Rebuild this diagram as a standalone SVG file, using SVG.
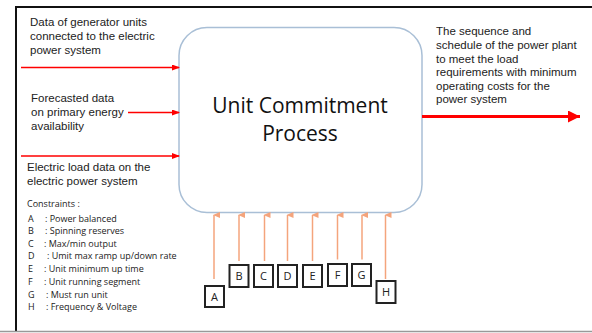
<svg xmlns="http://www.w3.org/2000/svg" width="592" height="333" viewBox="0 0 592 333">
<defs>
<style>
.t{font-family:"Liberation Sans",Arial,sans-serif;font-size:11.5px;fill:#222}
.c{font-family:"Open Sans","Liberation Sans",sans-serif;font-size:9px;fill:#222}
.title{font-family:"Open Sans","Liberation Sans",sans-serif;font-size:21px;fill:#111;text-anchor:middle}
.box{fill:#fff;stroke:#222;stroke-width:2}
.bl{font-family:"Open Sans","Liberation Sans",sans-serif;font-size:11px;fill:#222;text-anchor:middle}
.red{stroke:#f00;stroke-width:1.5;fill:none}
.or{stroke:#f4a47c;stroke-width:1.5;fill:none}
</style>
<marker id="ah" markerWidth="8" markerHeight="6" refX="7" refY="3" orient="auto" markerUnits="userSpaceOnUse"><path d="M0,0 L8,3 L0,6 Z" fill="#f00"/></marker>
<marker id="ahb" markerWidth="12" markerHeight="12" refX="12" refY="6" orient="auto" markerUnits="userSpaceOnUse"><path d="M0,0 L12,6 L0,12 Z" fill="#f00"/></marker>
<marker id="aho" markerWidth="6" markerHeight="7" refX="3" refY="1" orient="auto-start-reverse" markerUnits="userSpaceOnUse"><path d="M0,7 L3,0 L6,7 Z" fill="#f4a47c"/></marker>
</defs>
<rect width="592" height="333" fill="#fff"/>
<g id="frame">
<line x1="15" y1="7" x2="592" y2="7" stroke="#111" stroke-width="2"/>
<line x1="16" y1="6" x2="16" y2="331" stroke="#111" stroke-width="2"/>
<line x1="0" y1="331.5" x2="592" y2="331.5" stroke="#999" stroke-width="1.5"/>
</g>
<g id="process">
<rect x="179" y="27.5" width="243" height="185" rx="28" ry="28" fill="#fff" stroke="#a9bfd6" stroke-width="1.5"/>
<text class="title" x="300" y="113">Unit Commitment</text>
<text class="title" x="300" y="141">Process</text>
</g>
<g id="input1">
<text class="t" x="30" y="26">Data of generator units</text>
<text class="t" x="30" y="40">connected to the electric</text>
<text class="t" x="30" y="54">power system</text>
</g>
<g id="input2">
<text class="t" x="31" y="102">Forecasted data</text>
<text class="t" x="31" y="116">on primary energy</text>
<text class="t" x="31" y="130">availability</text>
</g>
<g id="input3">
<text class="t" x="27" y="171">Electric load data on the</text>
<text class="t" x="27" y="185">electric power system</text>
</g>
<g id="output">
<text class="t" x="436" y="35">The sequence and</text>
<text class="t" x="436" y="49">schedule of the power plant</text>
<text class="t" x="436" y="62.5">to meet the load</text>
<text class="t" x="436" y="76">requirements with minimum</text>
<text class="t" x="436" y="89.5">operating costs for the</text>
<text class="t" x="436" y="103">power system</text>
</g>
<g id="constraints">
<text class="c" x="27" y="207">Constraints :</text>
<text class="c" x="28" y="221.5">A</text><text class="c" x="45" y="221.5">: Power balanced</text>
<text class="c" x="28" y="234">B</text><text class="c" x="45" y="234">: Spinning reserves</text>
<text class="c" x="28" y="246.5">C</text><text class="c" x="44" y="246.5">: Max/min output</text>
<text class="c" x="28" y="259">D</text><text class="c" x="47" y="259">: Umit max ramp up/down rate</text>
<text class="c" x="28" y="272">E</text><text class="c" x="44" y="272">: Unit minimum up time</text>
<text class="c" x="28" y="284.5">F</text><text class="c" x="44" y="284.5">: Unit running segment</text>
<text class="c" x="28" y="297.5">G</text><text class="c" x="46" y="297.5">: Must run unit</text>
<text class="c" x="28" y="310">H</text><text class="c" x="46" y="310">: Frequency &amp; Voltage</text>
</g>
<g id="boxA"><rect class="box" x="205" y="286" width="19" height="21"/><text class="bl" x="214.5" y="301">A</text></g>
<g id="boxB"><rect class="box" x="229.5" y="265" width="19" height="22"/><text class="bl" x="239" y="280">B</text></g>
<g id="boxC"><rect class="box" x="254" y="265" width="19" height="22"/><text class="bl" x="263.5" y="280">C</text></g>
<g id="boxD"><rect class="box" x="278" y="265" width="19" height="22"/><text class="bl" x="287.5" y="280">D</text></g>
<g id="boxE"><rect class="box" x="303" y="265" width="19" height="22"/><text class="bl" x="312.5" y="280">E</text></g>
<g id="boxF"><rect class="box" x="328" y="264" width="19" height="22"/><text class="bl" x="337.5" y="279">F</text></g>
<g id="boxG"><rect class="box" x="352" y="264" width="19" height="22"/><text class="bl" x="361.5" y="279">G</text></g>
<g id="boxH"><rect class="box" x="376.5" y="281" width="19" height="22"/><text class="bl" x="386" y="296">H</text></g>
<g id="connectors">
<line class="red" x1="21" y1="67.5" x2="179" y2="67.5" marker-end="url(#ah)"/>
<line class="red" x1="128" y1="112.5" x2="179" y2="112.5" marker-end="url(#ah)"/>
<line class="red" x1="21" y1="156" x2="179" y2="156" marker-end="url(#ah)"/>
<line x1="422" y1="116.5" x2="580" y2="116.5" stroke="#f00" stroke-width="3" marker-end="url(#ahb)"/>
<line class="or" x1="214" y1="279" x2="214" y2="215" marker-end="url(#aho)"/>
<line class="or" x1="239" y1="261" x2="239" y2="215" marker-end="url(#aho)"/>
<line class="or" x1="264.5" y1="261" x2="264.5" y2="215" marker-end="url(#aho)"/>
<line class="or" x1="287.5" y1="261" x2="287.5" y2="215" marker-end="url(#aho)"/>
<line class="or" x1="312.5" y1="261" x2="312.5" y2="215" marker-end="url(#aho)"/>
<line class="or" x1="337.5" y1="259.5" x2="337.5" y2="215" marker-end="url(#aho)"/>
<line class="or" x1="362" y1="259.5" x2="362" y2="215" marker-end="url(#aho)"/>
<line class="or" x1="385.5" y1="279" x2="385.5" y2="215" marker-end="url(#aho)"/>
</g>
</svg>
